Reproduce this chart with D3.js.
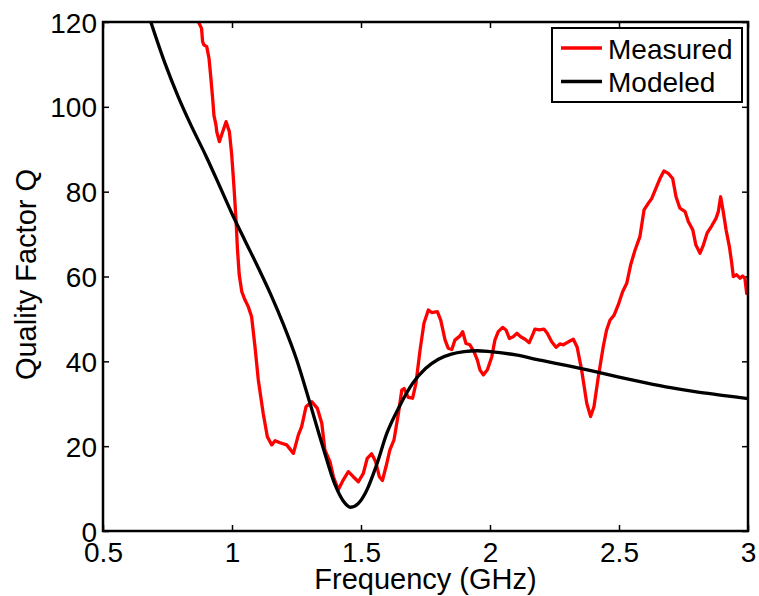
<!DOCTYPE html>
<meta charset="utf-8">
<style>
body { margin: 0; background: #fff; }
text { font-family: "Liberation Sans", Arial, sans-serif; fill: #000; }
.tick text { font-size: 28px; }
.tick line { stroke: #000; stroke-width: 1.5; }
</style>
<svg width="759" height="596"></svg>
<script src="https://d3js.org/d3.v7.min.js"></script>
<script>
// measured Q vs frequency (GHz)
var measF = [0.869,0.882,0.886,0.891,0.902,0.911,0.917,0.925,0.93,0.938,0.941,0.951,0.96,0.977,0.99,0.999,1.008,1.016,1.021,1.028,1.038,1.05,1.063,1.076,1.089,1.102,1.121,1.137,1.154,1.167,1.186,1.212,1.238,1.257,1.27,1.287,1.309,1.331,1.348,1.36,1.38,1.393,1.412,1.431,1.451,1.47,1.49,1.509,1.524,1.541,1.557,1.571,1.583,1.597,1.612,1.628,1.645,1.658,1.667,1.683,1.7,1.713,1.729,1.744,1.761,1.774,1.796,1.809,1.826,1.838,1.852,1.864,1.884,1.894,1.907,1.922,1.938,1.951,1.961,1.974,1.99,2.007,2.019,2.032,2.049,2.062,2.075,2.09,2.104,2.119,2.136,2.152,2.165,2.174,2.191,2.209,2.222,2.239,2.256,2.271,2.284,2.304,2.323,2.338,2.355,2.375,2.39,2.403,2.42,2.439,2.452,2.465,2.481,2.497,2.514,2.53,2.545,2.562,2.581,2.597,2.614,2.627,2.643,2.659,2.674,2.691,2.708,2.721,2.736,2.756,2.769,2.786,2.798,2.814,2.827,2.842,2.859,2.876,2.885,2.894,2.904,2.915,2.928,2.937,2.943,2.956,2.969,2.979,2.988,2.995,3.0];
var measQ = [120.1,118.5,115.4,114.6,114.2,111.4,107.5,102,98,95.7,94.1,91.8,93.4,96.5,94.1,88.6,80.8,72.9,66.6,60.4,56.4,54.5,52.9,50.5,43.5,35.6,27.7,22.2,20.3,21.3,20.8,20.3,18.3,22.6,24.6,29.3,30.5,28.9,25.4,19.1,16.3,12.8,9.7,12,14,12.8,11.6,13.6,17.1,18.2,16.3,12.8,11.9,15.2,19.1,21.5,27.7,33.2,33.6,31.5,31.3,34.8,42.7,49,52.1,51.5,51.7,49.7,45,43.1,42.8,45,46,47,44.2,43.9,42.3,40.3,38,36.8,38,41.1,45,47,48,47.4,45.4,45.8,46.6,45.8,45.2,44.4,46.2,47.6,47.4,47.6,46.6,44.6,43.3,44.1,43.9,44.6,45.2,43.3,38,30.1,27,29.3,36.4,43.5,47.4,49.7,50.9,53.3,56.4,58.4,62.7,66.2,69.4,75.7,77.3,78.4,80.8,83.1,84.9,84.3,83.1,78.8,76.1,75.3,72.9,71,67.4,65.5,67.4,70.3,71.9,73.7,75.3,78.8,75.3,71,67,63.1,60,60.4,59.6,60.1,59.6,56,57];

// modeled Q
var modF = [0.68,0.74,0.79,0.84,0.9,0.95,1.0,1.05,1.1,1.15,1.2,1.25,1.3,1.35,1.4,1.43,1.46,1.49,1.52,1.56,1.6,1.65,1.7,1.75,1.8,1.85,1.9,1.95,2.0,2.1,2.2,2.3,2.4,2.5,2.6,2.7,2.8,2.9,3.0];
var modQ = [121,110.3,102.6,95.8,88.3,81.6,74.8,68.5,62.3,55.8,48.6,40.5,30.6,20.3,10.8,7.2,5.6,6.5,9.3,15.5,23,29.5,34.8,38.3,40.5,41.7,42.3,42.5,42.3,41.5,40.2,39,37.7,36.3,35,33.8,32.8,32,31.2];

var xTicks = [0.5,1,1.5,2,2.5,3];
var yTicks = [0,20,40,60,80,100,120];
var seriesNames = ["Measured","Modeled"];
var seriesColors = ["#ff0000","#000000"];

var svg = d3.select("svg"),
    margin = {top: 22, right: 11, bottom: 65, left: 103},
    width = +svg.attr("width") - margin.left - margin.right,
    height = +svg.attr("height") - margin.top - margin.bottom,
    g = svg.append("g").attr("transform", "translate(" + margin.left + "," + margin.top + ")");

var x = d3.scaleLinear().domain([0.5, 3]).range([0, width]);
var y = d3.scaleLinear().domain([0, 120]).range([height, 0]);

svg.append("defs").append("clipPath").attr("id", "clip")
  .append("rect").attr("width", width).attr("height", height);

// axes with inward ticks
g.append("g").attr("transform", "translate(0," + height + ")")
  .call(d3.axisBottom(x).tickValues(xTicks).tickFormat(d3.format("")).tickSizeInner(-6).tickSizeOuter(0).tickPadding(11))
  .call(function(a) { a.select(".domain").remove(); a.selectAll("text").attr("dy", "0.71em"); });
g.append("g")
  .call(d3.axisTop(x).tickValues(xTicks).tickFormat("").tickSizeInner(-6).tickSizeOuter(0))
  .call(function(a) { a.select(".domain").remove(); });
g.append("g")
  .call(d3.axisLeft(y).tickValues(yTicks).tickSizeInner(-6).tickSizeOuter(0).tickPadding(6))
  .call(function(a) { a.select(".domain").remove(); a.selectAll("text").attr("dy", "0.36em"); });
g.append("g").attr("transform", "translate(" + width + ",0)")
  .call(d3.axisRight(y).tickValues(yTicks).tickFormat("").tickSizeInner(-6).tickSizeOuter(0))
  .call(function(a) { a.select(".domain").remove(); });

var line = d3.line().x(function(d) { return x(d[0]); }).y(function(d) { return y(d[1]); });

g.append("path")
  .datum(d3.zip(measF, measQ))
  .attr("clip-path", "url(#clip)")
  .attr("fill", "none").attr("stroke", seriesColors[0]).attr("stroke-width", 3.3)
  .attr("stroke-linejoin", "round")
  .attr("d", line.curve(d3.curveLinear));

g.append("path")
  .datum(d3.zip(modF, modQ))
  .attr("clip-path", "url(#clip)")
  .attr("fill", "none").attr("stroke", seriesColors[1]).attr("stroke-width", 3.3)
  .attr("d", line.curve(d3.curveMonotoneX));

// frame
g.append("rect").attr("width", width).attr("height", height)
  .attr("fill", "none").attr("stroke", "#000").attr("stroke-width", 2.5);

// axis labels
svg.append("text").attr("x", margin.left + width / 2).attr("y", 589)
  .attr("text-anchor", "middle").style("font-size", "29px").text("Frequency (GHz)");
svg.append("text").attr("transform", "translate(36," + (margin.top + height / 2 - 2) + ") rotate(-90)")
  .attr("text-anchor", "middle").style("font-size", "29px").text("Quality Factor Q");

// legend
var lg = svg.append("g").attr("transform", "translate(552,28)");
lg.append("rect").attr("width", 190).attr("height", 74)
  .attr("fill", "#fff").attr("stroke", "#000").attr("stroke-width", 2);
seriesNames.forEach(function(name, i) {
  var yy = 20 + i * 33.5;
  lg.append("line").attr("x1", 9).attr("x2", 50).attr("y1", yy).attr("y2", yy)
    .attr("stroke", seriesColors[i]).attr("stroke-width", 3.3);
  lg.append("text").attr("x", 56).attr("y", yy + 10.5).style("font-size", "28px").text(name);
});
</script>
